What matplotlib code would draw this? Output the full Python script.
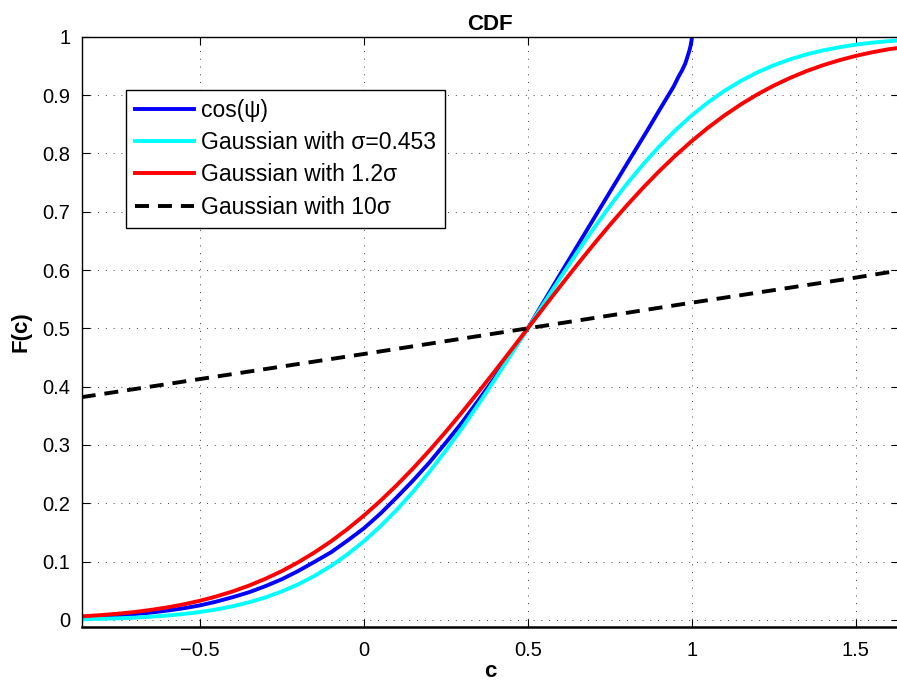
import numpy as np
import matplotlib
matplotlib.use("Agg")
import matplotlib.pyplot as plt

plt.rcParams['font.family'] = ['Liberation Sans', 'DejaVu Sans']

# sample points along c for the two narrow gaussian CDFs
c_gauss = [-0.86, -0.8, -0.75, -0.7, -0.65, -0.6, -0.55, -0.5, -0.45, -0.4, -0.35,
           -0.3, -0.25, -0.2, -0.15, -0.1, -0.05, 0.0, 0.05, 0.1, 0.15,
           0.2, 0.25, 0.3, 0.35, 0.4, 0.45, 0.5, 0.55, 0.6, 0.65,
           0.7, 0.75, 0.8, 0.85, 0.9, 0.95, 1.0, 1.05, 1.1, 1.15,
           1.2, 1.25, 1.3, 1.35, 1.4, 1.45, 1.5, 1.55, 1.6, 1.631]
F_sigma = [0.0013, 0.0021, 0.0029, 0.0040, 0.0056, 0.0076, 0.0102, 0.0136, 0.0180, 0.0235, 0.0303,
           0.0387, 0.0489, 0.0611, 0.0757, 0.0926, 0.1124, 0.1348, 0.1603, 0.1886, 0.2198,
           0.2539, 0.2905, 0.3294, 0.3703, 0.4126, 0.4561, 0.5000, 0.5439, 0.5874, 0.6297,
           0.6706, 0.7095, 0.7461, 0.7802, 0.8114, 0.8397, 0.8652, 0.8876, 0.9074, 0.9243,
           0.9389, 0.9511, 0.9613, 0.9697, 0.9765, 0.9820, 0.9864, 0.9898, 0.9924, 0.9935]
F_sigma12 = [0.0062, 0.0084, 0.0107, 0.0136, 0.0172, 0.0215, 0.0267, 0.0329, 0.0403, 0.0489, 0.0589,
             0.0706, 0.0838, 0.0989, 0.1159, 0.1348, 0.1558, 0.1788, 0.2039, 0.2309, 0.2598,
             0.2905, 0.3228, 0.3565, 0.3913, 0.4270, 0.4633, 0.5000, 0.5367, 0.5730, 0.6087,
             0.6435, 0.6772, 0.7095, 0.7402, 0.7691, 0.7961, 0.8212, 0.8442, 0.8652, 0.8841,
             0.9011, 0.9162, 0.9294, 0.9411, 0.9511, 0.9597, 0.9671, 0.9733, 0.9785, 0.9808]

# wide gaussian is almost a straight line
c_wide = [-0.86, -0.5, 0.0, 0.5, 1.0, 1.5, 1.631]
F_wide = [0.382, 0.413, 0.456, 0.500, 0.544, 0.587, 0.599]

# empirical CDF of cos(psi), ends at c = 1
c_cos = [-0.86, -0.8, -0.75, -0.7, -0.65, -0.6, -0.55, -0.5, -0.45, -0.4, -0.35,
         -0.3, -0.25, -0.2, -0.15, -0.1, -0.05, 0.0, 0.05, 0.1, 0.15,
         0.2, 0.25, 0.3, 0.35, 0.4, 0.45, 0.5, 0.6, 0.7, 0.8,
         0.863, 0.9, 0.929, 0.945, 0.959, 0.97, 0.98, 0.987, 0.993, 0.996,
         0.998, 0.9995, 1.0]
F_cos = [0.004, 0.006, 0.0076, 0.010, 0.0126, 0.016, 0.020, 0.025, 0.0314, 0.039, 0.0475,
         0.058, 0.0698, 0.084, 0.0998, 0.116, 0.136, 0.157, 0.182, 0.210, 0.239,
         0.270, 0.304, 0.339, 0.377, 0.416, 0.458, 0.500, 0.594, 0.687, 0.780,
         0.838, 0.873, 0.900, 0.915, 0.931, 0.942, 0.954, 0.966, 0.977, 0.984,
         0.990, 0.995, 1.000]

labels = ['cos(ψ)', 'Gaussian with σ=0.453', 'Gaussian with 1.2σ', 'Gaussian with 10σ']

xticks = [-0.5, 0, 0.5, 1, 1.5]
xticklabels = ['\u22120.5', '0', '0.5', '1', '1.5']
yticks = [0, 0.1, 0.2, 0.3, 0.4, 0.5, 0.6, 0.7, 0.8, 0.9, 1]
yticklabels = ['0', '0.1', '0.2', '0.3', '0.4', '0.5', '0.6', '0.7', '0.8', '0.9', '1']

fig = plt.figure(figsize=(8.97, 6.87), dpi=100)
ax = fig.add_axes([0.0911, 0.0878, 0.9109, 0.8588])

lw = 2.8
ax.plot(c_cos, F_cos, color=(0, 0, 1), lw=lw, label=labels[0])
ax.plot(c_gauss, F_sigma, color=(0, 1, 1), lw=lw, label=labels[1])
ax.plot(c_gauss, F_sigma12, color=(1, 0, 0), lw=lw, label=labels[2])
ax.plot(c_wide, F_wide, color='k', lw=lw, linestyle=(0, (3.6, 2.3)), label=labels[3])

ax.set_xlim(-0.86, 1.631)
ax.set_ylim(-0.0115, 1)
ax.set_xticks(xticks)
ax.set_xticklabels(xticklabels)
ax.set_yticks(yticks)
ax.set_yticklabels(yticklabels)
ax.tick_params(direction='in', length=6, width=0.8, labelsize=14.5,
               top=True, right=True, pad=8)
ax.tick_params(axis='x', pad=10)

ax.grid(True, color='0.25', lw=0.7, linestyle=(0, (1, 7)))
for side in ['left', 'top', 'right']:
    ax.spines[side].set_linewidth(1.0)
ax.spines['bottom'].set_linewidth(1.8)

ax.set_title('CDF', fontsize=16, fontweight='bold', pad=5)
ax.set_xlabel('c', fontsize=16, fontweight='bold', labelpad=1)
ax.set_ylabel('F(c)', fontsize=16, fontweight='bold', labelpad=8)

leg = ax.legend(loc='upper left', bbox_to_anchor=(0.0538, 0.9097), borderaxespad=0,
                fontsize=16.5, fancybox=False, framealpha=1, edgecolor='k',
                handlelength=2.58, handletextpad=0.3, labelspacing=0.4,
                borderpad=0.4)
leg.get_frame().set_linewidth(1.0)

fig.savefig('out.png', dpi=100)
